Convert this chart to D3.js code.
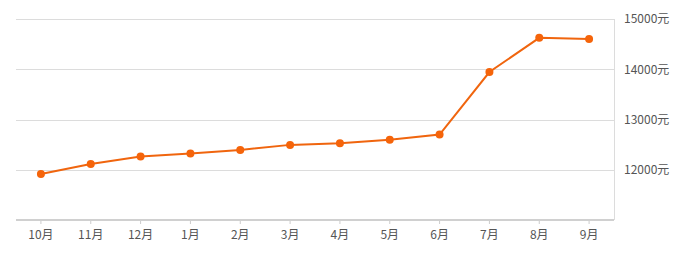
<!DOCTYPE html>
<html>
<head>
<meta charset="utf-8">
<script src="https://cdn.jsdelivr.net/npm/d3@7"></script>
<style>
  body { margin: 0; background: #fff; }
  text { font-family: "Noto Sans CJK SC", "Noto Sans", sans-serif; font-size: 12px; fill: #555; }
</style>
</head>
<body>
<div id="vis"></div>
<script>
var months = ['10月', '11月', '12月', '1月', '2月', '3月', '4月', '5月', '6月', '7月', '8月', '9月'];
var prices = [11915, 12115, 12265, 12325, 12395, 12495, 12525, 12595, 12700, 13945, 14625, 14600];
var yTicks = [12000, 13000, 14000, 15000];

var width = 696, height = 262;
var margin = { left: 16, right: 82, top: 19, bottom: 42 };
var drawWidth = width - margin.left - margin.right,
    drawHeight = height - margin.top - margin.bottom;

var svg = d3.select('#vis').append('svg')
    .attr('width', width)
    .attr('height', height);

var g = svg.append('g')
    .attr('transform', `translate(${margin.left}, ${margin.top})`);

var xScale = d3.scaleBand().domain(months).range([0, drawWidth]);
var yScale = d3.scaleLinear().domain([11000, 15000]).range([drawHeight, 0]);

// grid lines
g.selectAll('.grid')
    .data(yTicks)
    .enter().append('line')
    .attr('class', 'grid')
    .attr('x1', 0)
    .attr('x2', drawWidth)
    .attr('y1', (d) => Math.round(yScale(d)) + 0.5)
    .attr('y2', (d) => Math.round(yScale(d)) + 0.5)
    .style('stroke', '#dcdcdc');

// right border
g.append('line')
    .attr('x1', drawWidth + 0.5).attr('x2', drawWidth + 0.5)
    .attr('y1', 0).attr('y2', drawHeight)
    .style('stroke', '#dcdcdc');

// y labels on the right
var yAxis = d3.axisRight(yScale).tickValues(yTicks)
    .tickSize(0).tickPadding(10)
    .tickFormat((d) => d + '元');
g.append('g')
    .attr('transform', `translate(${drawWidth}, 0)`)
    .call(yAxis)
    .call((a) => a.select('.domain').remove());

// x axis
var xAxis = d3.axisBottom(xScale).tickSize(4).tickPadding(6);
var xg = g.append('g')
    .attr('transform', `translate(0, ${drawHeight})`)
    .call(xAxis);
xg.select('.domain').remove();
xg.selectAll('.tick line').style('stroke', '#ccc');
xg.append('line')
    .attr('x1', 0).attr('x2', drawWidth)
    .attr('y1', 0).attr('y2', 0)
    .style('stroke', '#d0d0d0')
    .style('stroke-width', 2);

var cx = (d, i) => xScale(months[i]) + xScale.bandwidth() / 2;

var line = d3.line()
    .x(cx)
    .y((d) => yScale(d));

g.append('path')
    .datum(prices)
    .attr('d', line)
    .style('fill', 'none')
    .style('stroke', '#f0650e')
    .style('stroke-width', 2);

g.selectAll('circle')
    .data(prices)
    .enter().append('circle')
    .attr('cx', cx)
    .attr('cy', (d) => yScale(d))
    .attr('r', 4)
    .style('fill', '#f5640a');
</script>
</body>
</html>
